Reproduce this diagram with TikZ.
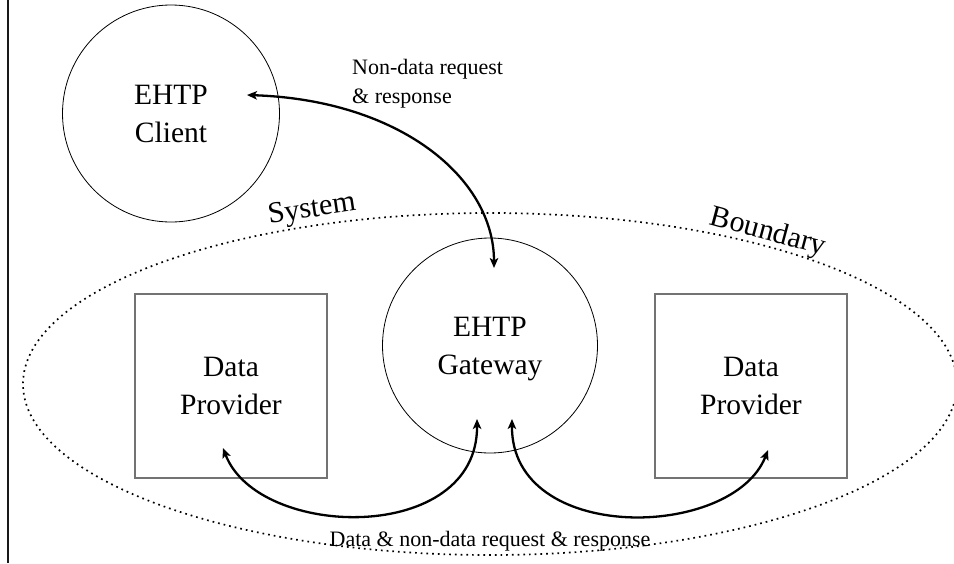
\documentclass[tikz,border=0pt]{standalone}
\usepackage{fontspec}
\setmainfont{Liberation Serif}
\usetikzlibrary{arrows.meta,shapes.geometric}
\begin{document}
\begin{tikzpicture}[x=1pt,y=-1pt,
  bigtext/.style={font=\fontsize{29.5}{38}\selectfont, align=center, text depth=0pt},
  circ/.style={circle, draw=black, line width=0.8pt, inner sep=0pt, bigtext},
  provider/.style={rectangle, draw=black!55, line width=1.2pt, inner sep=0pt,
    minimum width=192pt, minimum height=184pt, bigtext},
  boundary/.style={ellipse, draw=black, line width=1.7pt, dash pattern=on 1.7pt off 4pt,
    inner sep=0pt, minimum width=934pt, minimum height=342pt},
  smalltext/.style={font=\fontsize{22}{29}\selectfont, inner sep=0pt},
  bndtext/.style={font=\fontsize{30}{36}\selectfont, inner sep=0pt},
  flow/.style={line width=2.3pt, {Stealth[length=10pt,width=8.5pt,inset=2.5pt]}-{Stealth[length=10pt,width=8.5pt,inset=2.5pt]}}
]
\useasboundingbox (0,0) rectangle (954,563);

% page rule on the left
\draw[line width=2.3pt, black!90] (8,0) -- (8,563);

% system boundary
\node[boundary] (sysb) at (490,384) {};

% actors
\node[circ, minimum size=217pt] (client) at (171,113.5) {EHTP\\Client};
\node[circ, minimum size=215pt] (gw) at (490,345.5) {EHTP\\Gateway};
\node[provider] (dpL) at (231,386) {Data\\Provider};
\node[provider] (dpR) at (751,386) {Data\\Provider};

% boundary captions
\node[bndtext, rotate=8.5, anchor=base] (syslab) at (313,217) {System};
\node[bndtext, rotate=-15, anchor=base] (bndlab) at (766,240) {Boundary};

% flow labels
\node[smalltext, anchor=north west, align=left] (ndlab) at (352,59) {Non-data request\\\& response};
\node[smalltext, anchor=base] (datalab) at (490,546) {Data \& non-data request \& response};

% arrow end points
\coordinate (clientTip) at (247,95);
\coordinate (gwTop) at (494,268);
\coordinate (gwBotL) at (477,419);
\coordinate (gwBotR) at (512,419);
\coordinate (dpLTip) at (223,448);
\coordinate (dpRTip) at (768,450);

% flows
\draw[flow] (clientTip) .. controls (400,100) and (494,178) .. (gwTop);
\draw[flow] (dpLTip) .. controls (258,540) and (478,545) .. (gwBotL);
\draw[flow] (gwBotR) .. controls (511,545) and (733,540) .. (dpRTip);
\end{tikzpicture}
\end{document}
